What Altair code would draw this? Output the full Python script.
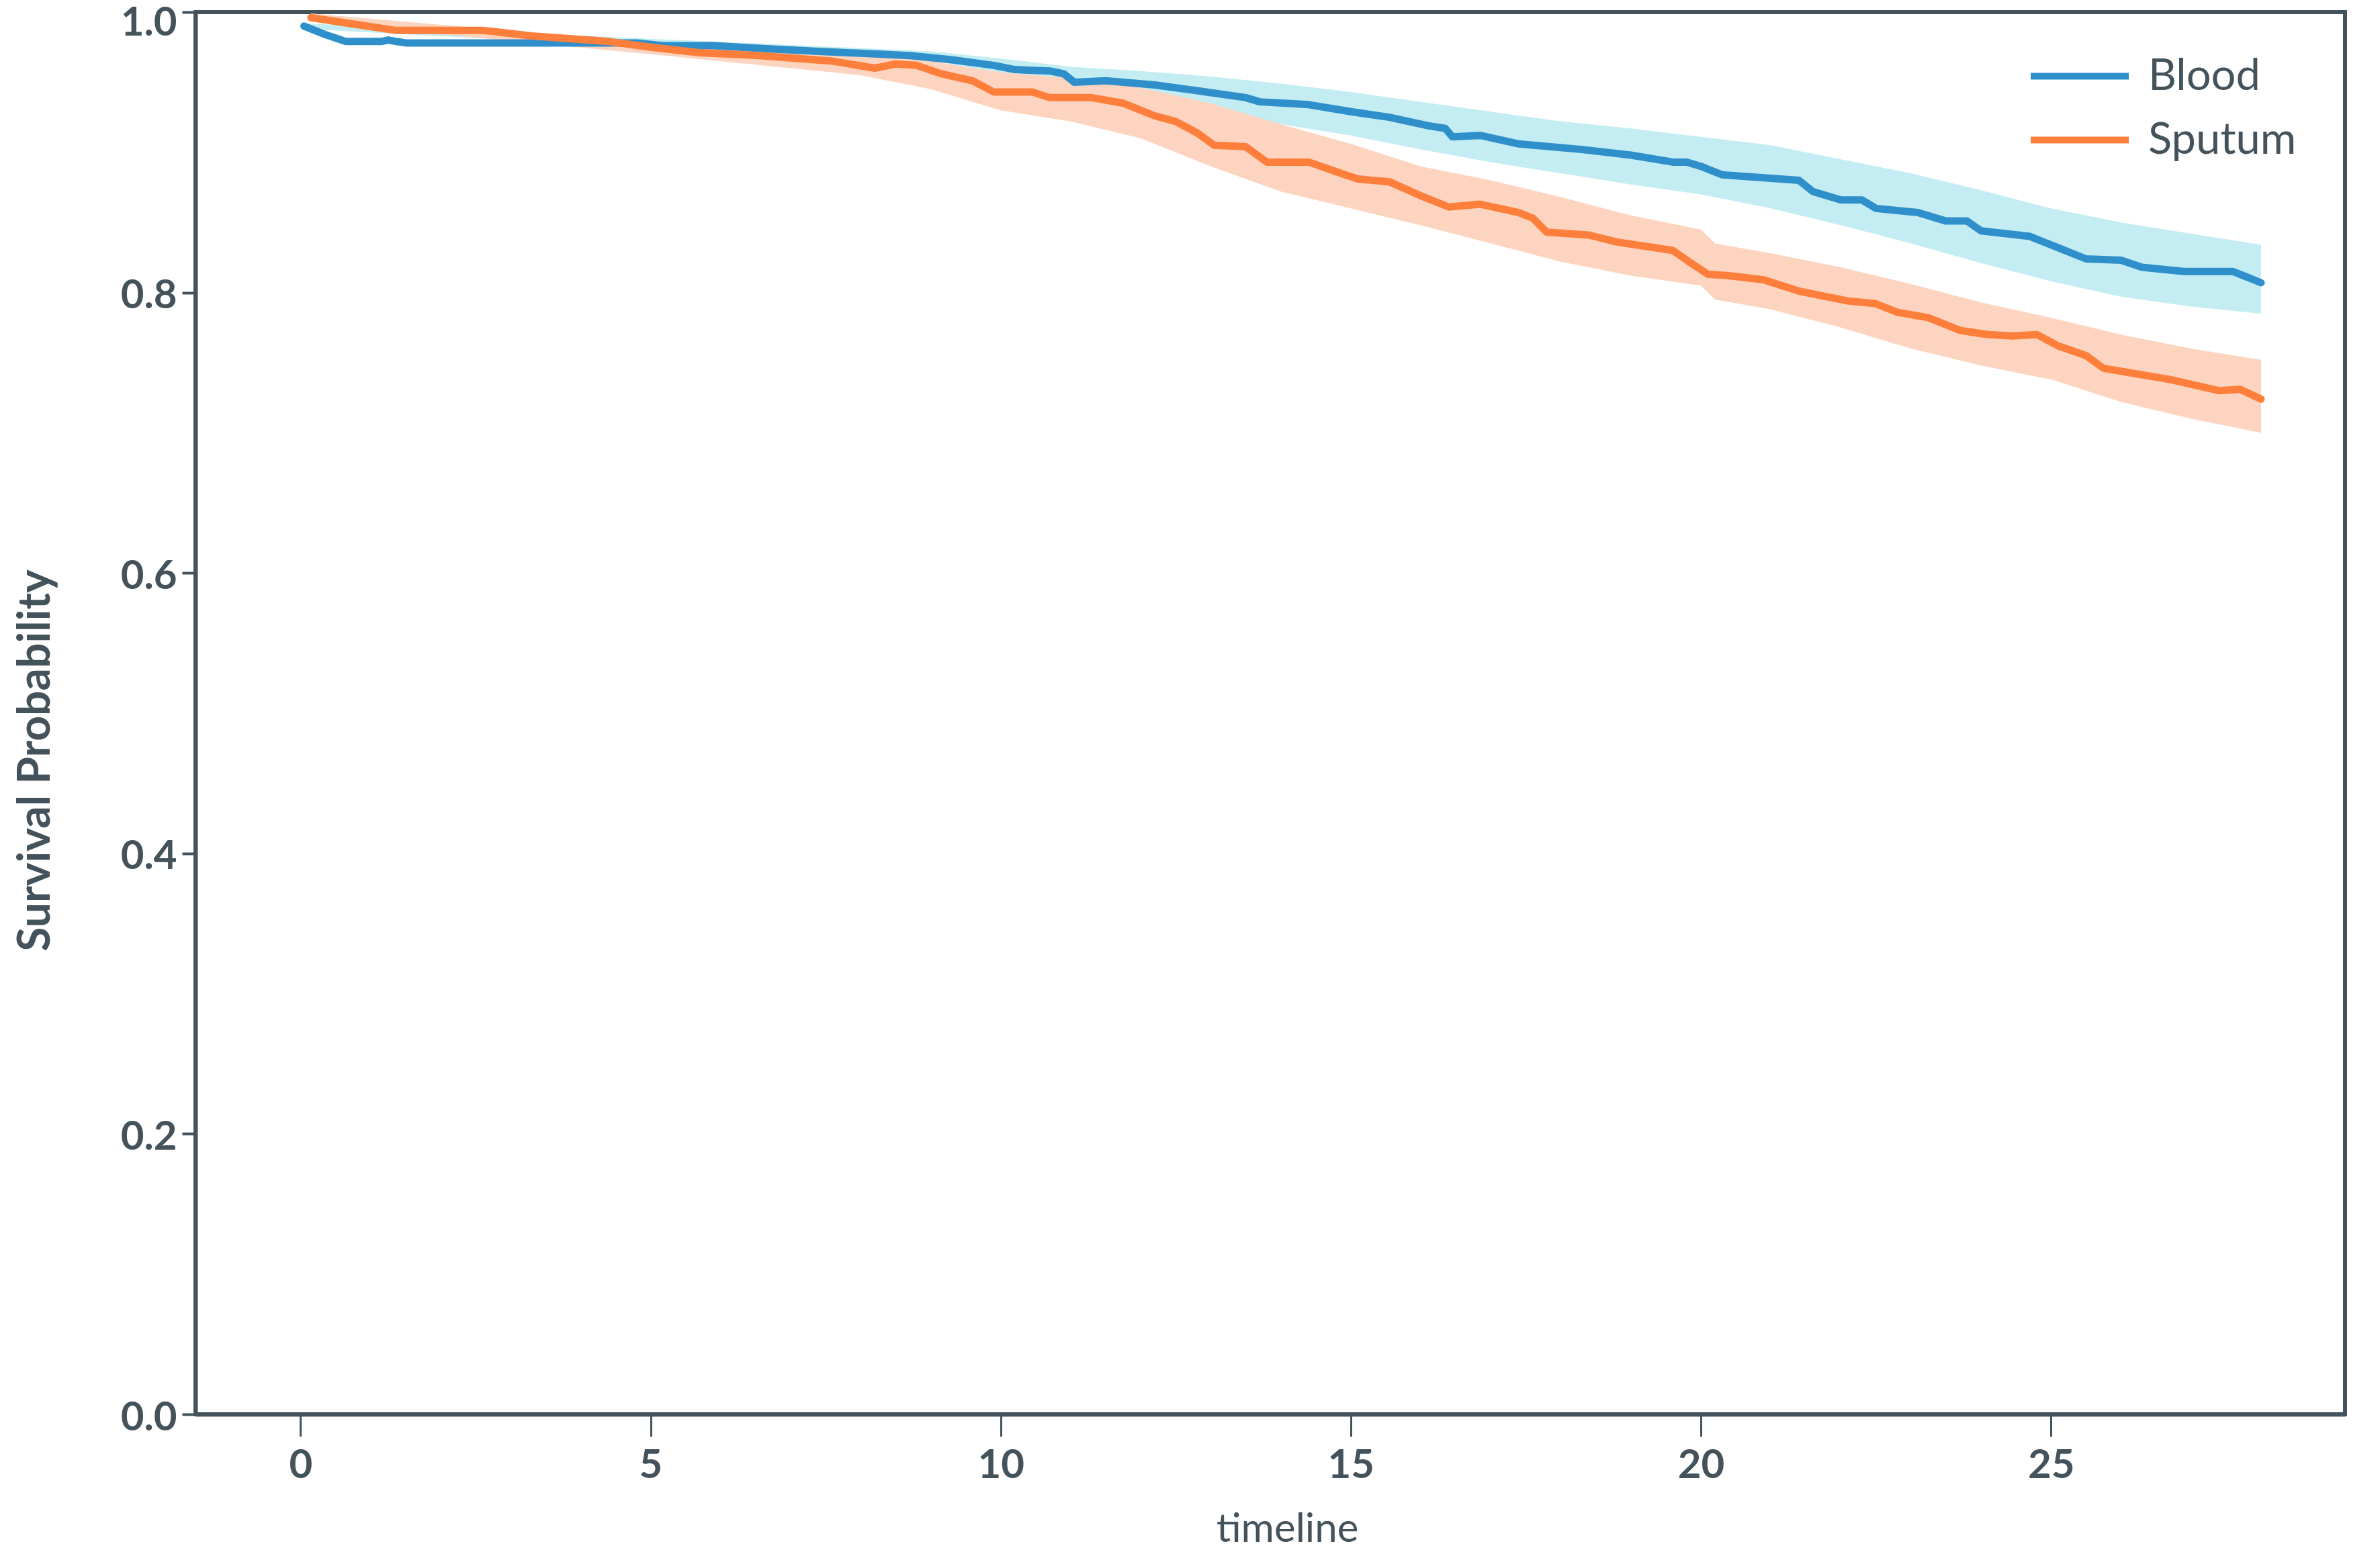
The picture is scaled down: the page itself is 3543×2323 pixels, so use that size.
import altair as alt
import pandas as pd

# ---- data ----
blood_t = [0.05, 0.35, 0.65, 1.15, 1.25, 1.5, 4.8, 5.2, 5.9, 6.6, 7.4, 8.7, 9.3, 9.9, 10.2, 10.7,
           10.9, 11.05, 11.5, 12.2, 12.8, 13.5, 13.7, 14.4, 15.0, 15.55, 16.1, 16.35, 16.45, 16.85,
           17.4, 18.3, 19.0, 19.6, 19.8, 20.0, 20.3, 21.4, 21.6, 22.0, 22.3, 22.5, 23.1, 23.5, 23.8,
           24.0, 24.7, 25.0, 25.5, 26.0, 26.3, 26.9, 27.6, 27.8, 28.0]
blood_s = [0.990, 0.984, 0.979, 0.979, 0.980, 0.978, 0.978, 0.976, 0.976, 0.974, 0.972, 0.969,
           0.966, 0.962, 0.959, 0.958, 0.956, 0.950, 0.951, 0.948, 0.944, 0.939, 0.936, 0.934,
           0.929, 0.925, 0.919, 0.917, 0.911, 0.912, 0.906, 0.902, 0.898, 0.893, 0.893, 0.890,
           0.884, 0.880, 0.872, 0.866, 0.866, 0.860, 0.857, 0.851, 0.851, 0.844, 0.840, 0.834,
           0.824, 0.823, 0.818, 0.815, 0.815, 0.811, 0.807]

blood_band_t = [0.05, 5.0, 9.0, 10.0, 11.0, 12.0, 13.0, 14.0, 15.0, 16.0, 17.0, 18.0, 19.0, 20.0,
                21.0, 22.0, 23.0, 24.0, 25.0, 26.0, 27.0, 28.0]
blood_lo = [0.988, 0.975, 0.966, 0.955, 0.942, 0.937, 0.928, 0.920, 0.912, 0.902, 0.893, 0.885,
            0.877, 0.870, 0.860, 0.848, 0.835, 0.821, 0.808, 0.797, 0.790, 0.785]
blood_hi = [0.992, 0.981, 0.972, 0.967, 0.961, 0.958, 0.954, 0.949, 0.943, 0.936, 0.929, 0.922,
            0.917, 0.911, 0.905, 0.895, 0.885, 0.873, 0.860, 0.850, 0.842, 0.834]

sputum_t = [0.15, 1.35, 2.6, 3.3, 4.4, 5.0, 5.7, 6.55, 7.6, 8.2, 8.5, 8.8, 9.15, 9.6, 9.9, 10.45,
            10.7, 11.3, 11.75, 12.2, 12.5, 12.8, 13.05, 13.5, 13.8, 14.4, 14.8, 15.1, 15.55, 16.0,
            16.4, 16.85, 17.4, 17.6, 17.8, 18.4, 18.8, 19.6, 19.8, 20.1, 20.4, 20.9, 21.4, 21.7,
            22.1, 22.5, 22.8, 23.25, 23.7, 24.1, 24.45, 24.8, 25.1, 25.5, 25.75, 26.1, 26.7, 27.4,
            27.7, 28.0]
sputum_s = [0.996, 0.987, 0.987, 0.983, 0.979, 0.975, 0.971, 0.969, 0.965, 0.960, 0.963, 0.962,
            0.956, 0.951, 0.943, 0.943, 0.939, 0.939, 0.935, 0.926, 0.922, 0.914, 0.905, 0.904,
            0.893, 0.893, 0.886, 0.881, 0.879, 0.869, 0.861, 0.863, 0.857, 0.853, 0.843, 0.841,
            0.836, 0.830, 0.823, 0.813, 0.812, 0.809, 0.801, 0.798, 0.794, 0.792, 0.786, 0.782,
            0.773, 0.770, 0.769, 0.770, 0.762, 0.755, 0.746, 0.743, 0.738, 0.730, 0.731, 0.724]

sputum_band_t = [0.15, 5.0, 8.0, 9.0, 10.0, 11.0, 12.0, 13.0, 14.0, 15.0, 16.0, 17.0, 18.0, 19.0,
                 20.0, 20.2, 21.0, 22.0, 23.0, 24.0, 25.0, 26.0, 27.0, 28.0]
sputum_lo = [0.993, 0.970, 0.955, 0.945, 0.930, 0.922, 0.910, 0.890, 0.872, 0.860, 0.848, 0.835,
             0.822, 0.812, 0.805, 0.795, 0.788, 0.775, 0.760, 0.748, 0.738, 0.722, 0.710, 0.700]
sputum_hi = [0.999, 0.978, 0.970, 0.965, 0.957, 0.953, 0.946, 0.935, 0.920, 0.906, 0.890, 0.880,
             0.868, 0.855, 0.845, 0.835, 0.828, 0.818, 0.806, 0.793, 0.782, 0.770, 0.760, 0.752]

groups = ["Blood", "Sputum"]
x_ticks = [0, 5, 10, 15, 20, 25]
y_ticks = [0.0, 0.2, 0.4, 0.6, 0.8, 1.0]

line_df = pd.concat([
    pd.DataFrame({"timeline": blood_t, "surv": blood_s, "group": "Blood"}),
    pd.DataFrame({"timeline": sputum_t, "surv": sputum_s, "group": "Sputum"}),
])
blood_band = pd.DataFrame({"timeline": blood_band_t, "lo": blood_lo, "hi": blood_hi})
sputum_band = pd.DataFrame({"timeline": sputum_band_t, "lo": sputum_lo, "hi": sputum_hi})

TXT = "#44525c"
FONT = "Lato"
W, H = 3200, 2088

x_enc = alt.X("timeline:Q",
              scale=alt.Scale(domain=[-1.5, 29.2], nice=False, zero=False),
              axis=alt.Axis(title="timeline", values=x_ticks, format="d", grid=False,
                            tickSize=33, tickWidth=3, tickColor=TXT,
                            domainWidth=6, domainColor=TXT,
                            labelFont=FONT, labelFontSize=60, labelFontWeight="bold",
                            labelColor=TXT, labelPadding=14,
                            titleFont=FONT, titleFontSize=60, titleFontWeight="normal",
                            titleColor=TXT, titlePadding=36, titleX=W / 2 + 25))
y_scale = alt.Scale(domain=[0, 1], nice=False)
y_axis = alt.Axis(title="Survival Probability", values=y_ticks, format=".1f", grid=False,
                  tickSize=20, tickWidth=4, tickColor=TXT,
                  domainWidth=6, domainColor=TXT,
                  labelFont=FONT, labelFontSize=60, labelFontWeight="bold",
                  labelColor=TXT, labelPadding=8,
                  labelOffset={"condition": {"test": "datum.value >= 1", "value": 16}, "value": 5},
                  titleFont=FONT, titleFontSize=66, titleFontWeight="bold",
                  titleColor=TXT, titlePadding=92, titleY=H / 2 + 70)

band1 = alt.Chart(blood_band).mark_area(color="#c3edf2", opacity=1).encode(
    x=x_enc, y=alt.Y("lo:Q", scale=y_scale, axis=y_axis), y2="hi:Q")
band2 = alt.Chart(sputum_band).mark_area(color="#fdd4bf", opacity=1).encode(
    x=x_enc, y=alt.Y("lo:Q", scale=y_scale, axis=y_axis), y2="hi:Q")

lines = alt.Chart(line_df).mark_line(strokeWidth=11, strokeCap="round", strokeJoin="round").encode(
    x=x_enc,
    y=alt.Y("surv:Q", scale=y_scale, axis=y_axis),
    color=alt.Color("group:N",
                    scale=alt.Scale(domain=groups, range=["#2e8fcb", "#fe7f3c"]),
                    sort=groups,
                    legend=alt.Legend(title=None, orient="none", legendX=2727, legendY=48,
                                      symbolType="stroke", symbolSize=21316,
                                      symbolStrokeWidth=10, clipHeight=95, rowPadding=0,
                                      labelFont=FONT, labelFontSize=65, labelColor=TXT,
                                      labelOffset=24, labelLimit=600, padding=0)),
    order=alt.Order("timeline:Q"),
)

chart = alt.layer(band1, band2, lines).properties(
    width=W, height=H,
    autosize=alt.AutoSizeParams(type="none"),
    padding={"left": 283, "top": 10, "right": 40, "bottom": 215},
).configure_view(stroke=TXT, strokeWidth=6)

chart.save("out.html", embed_options={"renderer": "svg", "actions": False})
